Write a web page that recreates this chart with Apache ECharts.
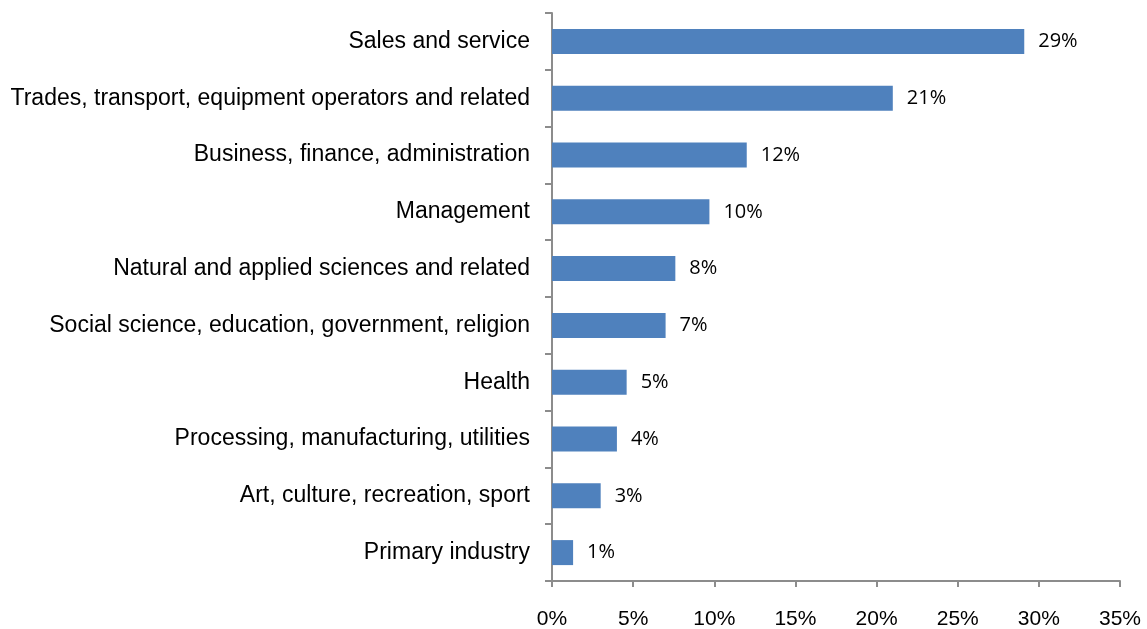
<!DOCTYPE html>
<html>
<head>
<meta charset="utf-8">
<script src="https://cdn.jsdelivr.net/npm/echarts@6/dist/echarts.min.js"></script>
<style>
  html, body { margin: 0; padding: 0; background: #fff; }
  #chart { width: 1147px; height: 629px; }
</style>
</head>
<body>
<div id="chart"></div>
<script>
// categories, top to bottom as in the picture
const categories = [
  "Sales and service",
  "Trades, transport, equipment operators and related",
  "Business, finance, administration",
  "Management",
  "Natural and applied sciences and related",
  "Social science, education, government, religion",
  "Health",
  "Processing, manufacturing, utilities",
  "Art, culture, recreation, sport",
  "Primary industry"
];
// share of workers, percent
const shares = [29.1, 21.0, 12.0, 9.7, 7.6, 7.0, 4.6, 4.0, 3.0, 1.3];
const xTicks = [0, 5, 10, 15, 20, 25, 30, 35];

const chart = echarts.init(document.getElementById("chart"));
chart.setOption({
  animation: false,
  textStyle: { fontFamily: "Liberation Sans, Arial, sans-serif" },
  grid: { left: 552, right: 27, top: 13, bottom: 48, outerBoundsMode: "none" },
  xAxis: {
    type: "value",
    min: xTicks[0],
    max: xTicks[xTicks.length - 1],
    interval: 5,
    axisLine: { show: true, lineStyle: { color: "#8c8c8c", width: 2 } },
    axisTick: { show: true, length: 6, lineStyle: { color: "#8c8c8c", width: 2 } },
    splitLine: { show: false },
    axisLabel: {
      formatter: "{value}%",
      color: "#000",
      fontSize: 21,
      margin: 28
    }
  },
  yAxis: {
    type: "category",
    inverse: true,
    data: categories,
    axisLine: { show: true, lineStyle: { color: "#8c8c8c", width: 2 } },
    axisTick: { show: true, length: 7, alignWithLabel: false, lineStyle: { color: "#8c8c8c", width: 2 } },
    axisLabel: { color: "#000", fontSize: 23, margin: 22 }
  },
  series: [{
    type: "bar",
    data: shares,
    barWidth: "44%",
    itemStyle: { color: "#4f81bd" },
    label: {
      show: true,
      position: "right",
      distance: 14,
      color: "#000",
      fontSize: 20,
      fontFamily: "Open Sans, sans-serif",
      formatter: p => Math.round(p.value) + "%"
    }
  }]
});
</script>
</body>
</html>
